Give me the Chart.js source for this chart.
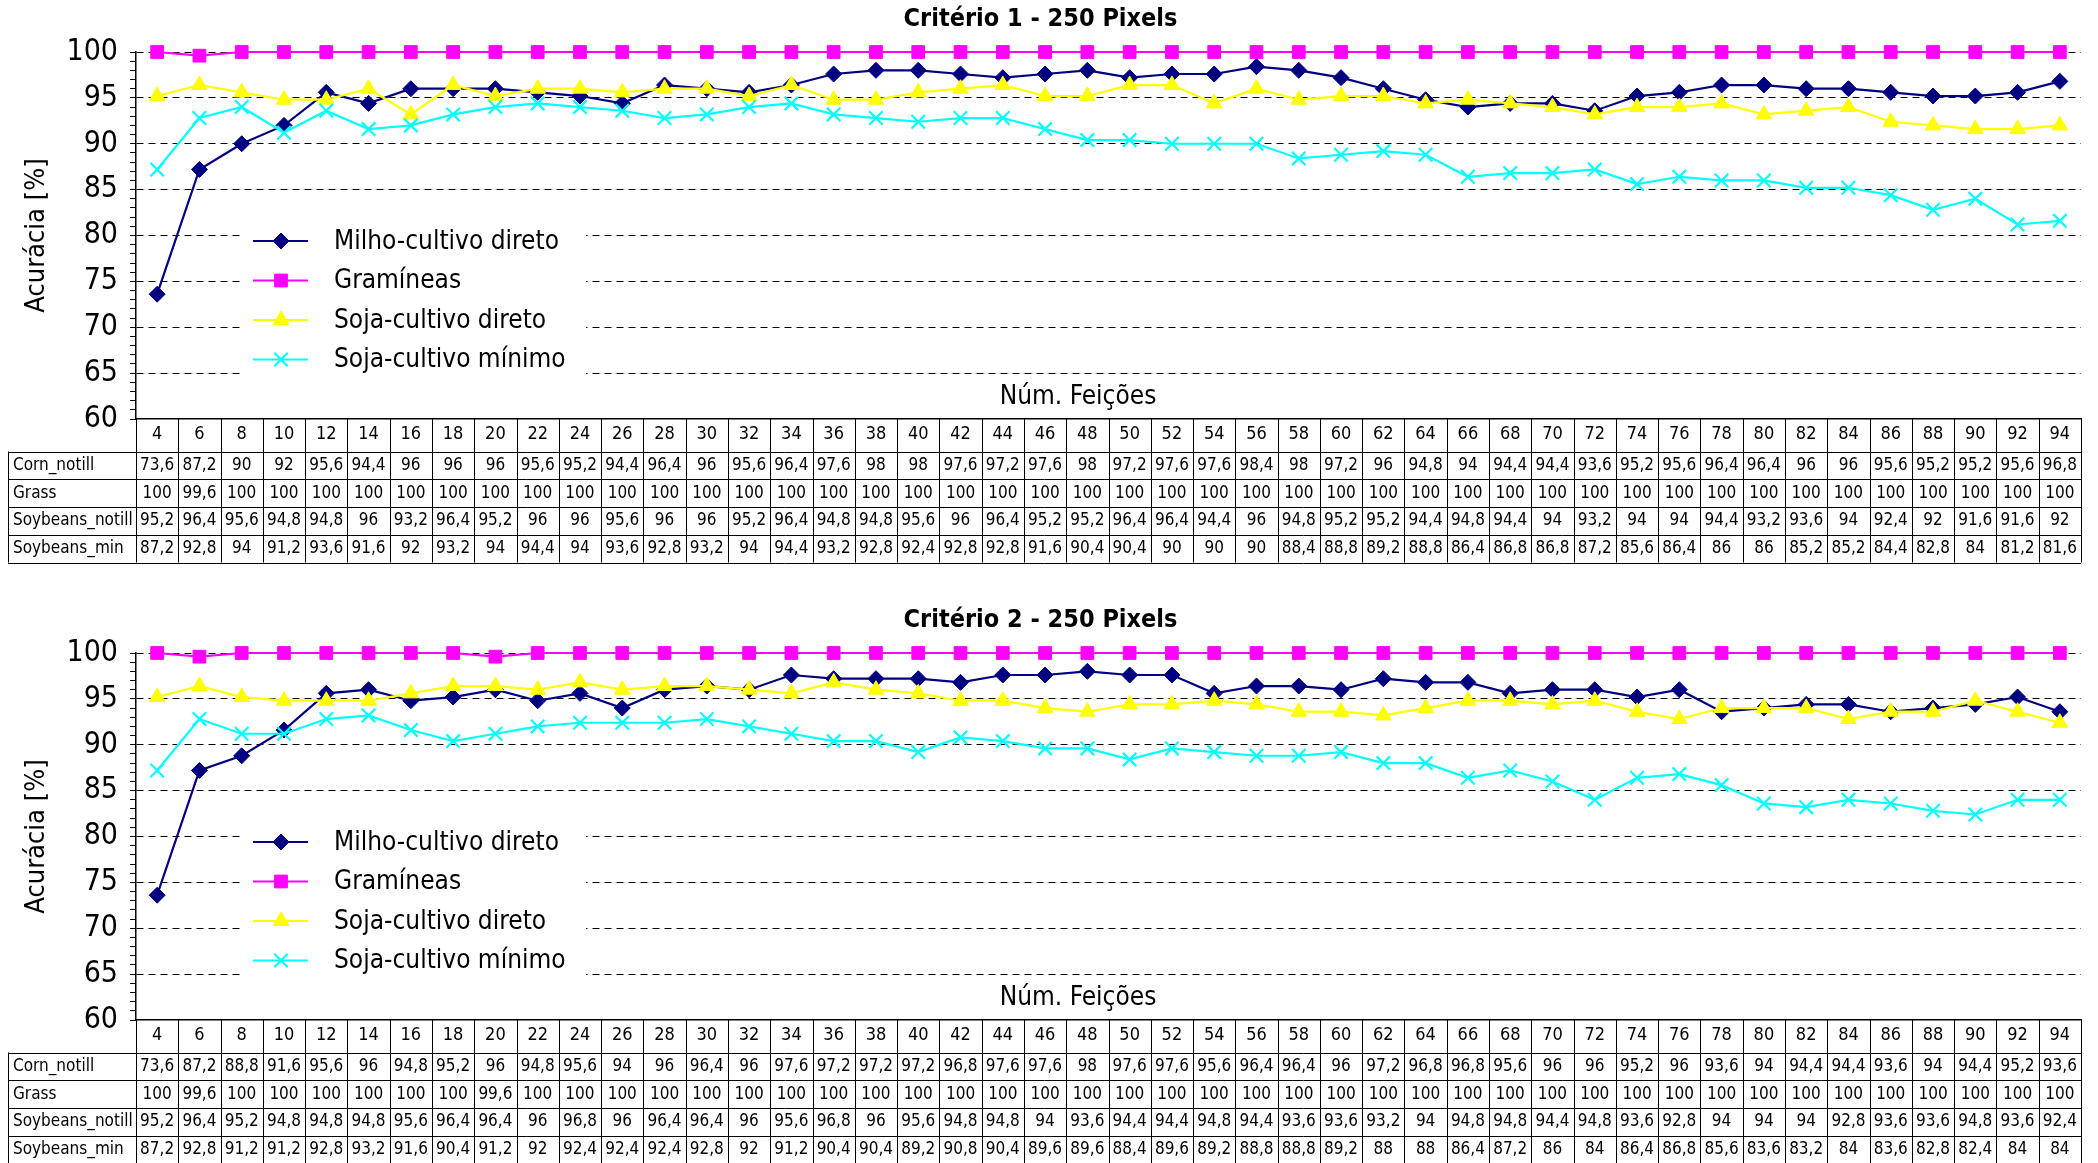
<!DOCTYPE html>
<html>
<head>
<meta charset="utf-8">
<title>Critério 1 e 2 - 250 Pixels</title>
<script src="https://cdn.jsdelivr.net/npm/chart.js@4.4.1/dist/chart.umd.min.js"></script>
<style>
  html, body { margin: 0; padding: 0; background: #fff; width: 2098px; height: 1163px; overflow: hidden; }
  canvas { position: absolute; left: 0; }
  #chartOne { top: 0; }
  #chartTwo { top: 601px; }
</style>
</head>
<body>
<canvas id="chartOne" width="2098" height="566"></canvas>
<canvas id="chartTwo" width="2098" height="566"></canvas>
<script>
// number of features (x categories)
const features = [4, 6, 8, 10, 12, 14, 16, 18, 20, 22, 24, 26, 28, 30, 32, 34, 36, 38, 40, 42, 44, 46, 48,
                  50, 52, 54, 56, 58, 60, 62, 64, 66, 68, 70, 72, 74, 76, 78, 80, 82, 84, 86, 88, 90, 92, 94];

// Critério 1
const cornOne = [73.6, 87.2, 90, 92, 95.6, 94.4, 96, 96, 96, 95.6, 95.2, 94.4, 96.4, 96,
                 95.6, 96.4, 97.6, 98, 98, 97.6, 97.2, 97.6, 98, 97.2, 97.6, 97.6, 98.4, 98, 97.2, 96,
                 94.8, 94, 94.4, 94.4, 93.6, 95.2, 95.6, 96.4, 96.4, 96, 96, 95.6, 95.2, 95.2, 95.6, 96.8];
const grassOne = [100, 99.6, 100, 100, 100, 100, 100, 100, 100, 100, 100, 100, 100, 100,
                  100, 100, 100, 100, 100, 100, 100, 100, 100, 100, 100, 100, 100, 100, 100, 100,
                  100, 100, 100, 100, 100, 100, 100, 100, 100, 100, 100, 100, 100, 100, 100, 100];
const soyNotillOne = [95.2, 96.4, 95.6, 94.8, 94.8, 96, 93.2, 96.4, 95.2, 96, 96, 95.6, 96, 96,
                      95.2, 96.4, 94.8, 94.8, 95.6, 96, 96.4, 95.2, 95.2, 96.4, 96.4, 94.4, 96, 94.8, 95.2, 95.2,
                      94.4, 94.8, 94.4, 94, 93.2, 94, 94, 94.4, 93.2, 93.6, 94, 92.4, 92, 91.6, 91.6, 92];
const soyMinOne = [87.2, 92.8, 94, 91.2, 93.6, 91.6, 92, 93.2, 94, 94.4, 94, 93.6, 92.8, 93.2,
                   94, 94.4, 93.2, 92.8, 92.4, 92.8, 92.8, 91.6, 90.4, 90.4, 90, 90, 90, 88.4, 88.8, 89.2,
                   88.8, 86.4, 86.8, 86.8, 87.2, 85.6, 86.4, 86, 86, 85.2, 85.2, 84.4, 82.8, 84, 81.2, 81.6];

// Critério 2
const cornTwo = [73.6, 87.2, 88.8, 91.6, 95.6, 96, 94.8, 95.2, 96, 94.8, 95.6, 94, 96, 96.4,
                 96, 97.6, 97.2, 97.2, 97.2, 96.8, 97.6, 97.6, 98, 97.6, 97.6, 95.6, 96.4, 96.4, 96, 97.2,
                 96.8, 96.8, 95.6, 96, 96, 95.2, 96, 93.6, 94, 94.4, 94.4, 93.6, 94, 94.4, 95.2, 93.6];
const grassTwo = [100, 99.6, 100, 100, 100, 100, 100, 100, 99.6, 100, 100, 100, 100, 100,
                  100, 100, 100, 100, 100, 100, 100, 100, 100, 100, 100, 100, 100, 100, 100, 100,
                  100, 100, 100, 100, 100, 100, 100, 100, 100, 100, 100, 100, 100, 100, 100, 100];
const soyNotillTwo = [95.2, 96.4, 95.2, 94.8, 94.8, 94.8, 95.6, 96.4, 96.4, 96, 96.8, 96, 96.4, 96.4,
                      96, 95.6, 96.8, 96, 95.6, 94.8, 94.8, 94, 93.6, 94.4, 94.4, 94.8, 94.4, 93.6, 93.6, 93.2,
                      94, 94.8, 94.8, 94.4, 94.8, 93.6, 92.8, 94, 94, 94, 92.8, 93.6, 93.6, 94.8, 93.6, 92.4];
const soyMinTwo = [87.2, 92.8, 91.2, 91.2, 92.8, 93.2, 91.6, 90.4, 91.2, 92, 92.4, 92.4, 92.4, 92.8,
                   92, 91.2, 90.4, 90.4, 89.2, 90.8, 90.4, 89.6, 89.6, 88.4, 89.6, 89.2, 88.8, 88.8, 89.2, 88,
                   88, 86.4, 87.2, 86, 84, 86.4, 86.8, 85.6, 83.6, 83.2, 84, 83.6, 82.8, 82.4, 84, 84];

const SANS = "'DejaVu Sans Condensed', 'DejaVu Sans', Verdana, sans-serif";
const NARROW = "'Liberation Sans Narrow', 'Arial Narrow', 'DejaVu Sans Condensed', sans-serif";

function formatValue(v) {
    return String(v).replace('.', ',');
}

// data table under the plot, columns follow the x scale
const tablePlugin = {
    id: 'dataTable',
    afterDraw(chart, args, opts) {
        const c = chart.ctx;
        const x = chart.scales.x;
        const area = chart.chartArea;
        const half = (x.getPixelForValue(1) - x.getPixelForValue(0)) / 2;
        const top = area.bottom;
        const headBottom = top + 32.5;
        const rowH = 27.75;
        const bottom = headBottom + rowH * opts.rows.length;
        const left = 8;
        const right = x.getPixelForValue(features.length - 1) + half;

        c.save();
        c.strokeStyle = '#000';
        c.lineWidth = 1;
        c.beginPath();
        for (let i = 0; i <= features.length; i++) {
            const px = Math.round(x.getPixelForValue(i) - half) + 0.5;
            c.moveTo(px, top);
            c.lineTo(px, bottom);
        }
        c.moveTo(left + 0.5, headBottom);
        c.lineTo(left + 0.5, bottom);
        for (let r = 0; r <= opts.rows.length; r++) {
            const py = Math.round(headBottom + r * rowH) + 0.5;
            c.moveTo(left, py);
            c.lineTo(right, py);
        }
        c.stroke();

        c.fillStyle = '#000';
        c.font = '17px ' + NARROW;
        c.textBaseline = 'middle';
        opts.rows.forEach(function(row, r) {
            const cy = headBottom + rowH * (r + 0.5);
            c.textAlign = 'left';
            c.fillText(row.name, 13, cy);
            c.textAlign = 'center';
            row.values.forEach(function(v, i) {
                c.fillText(formatValue(v), x.getPixelForValue(i), cy);
            });
        });
        c.restore();
    }
};

// legend box sitting inside the plot, plus the x axis caption
const insideLegendPlugin = {
    id: 'insideLegend',
    afterDraw(chart) {
        const c = chart.ctx;
        const area = chart.chartArea;
        const x0 = area.left;
        c.save();
        c.fillStyle = '#fff';
        c.fillRect(x0 + 105, area.top + 164, 345, 172);

        chart.data.datasets.forEach(function(ds, i) {
            const y = area.top + 189 + i * 39.5;
            c.strokeStyle = ds.borderColor;
            c.fillStyle = ds.backgroundColor;
            c.lineWidth = ds.borderWidth;
            c.beginPath();
            c.moveTo(x0 + 117, y);
            c.lineTo(x0 + 172, y);
            c.stroke();
            c.lineWidth = ds.pointBorderWidth;
            Chart.helpers.drawPoint(c, {
                pointStyle: ds.pointStyle,
                radius: ds.pointRadius,
                borderWidth: ds.pointBorderWidth,
                rotation: 0
            }, x0 + 145, y);
            c.fillStyle = '#000';
            c.font = '26px ' + SANS;
            c.textAlign = 'left';
            c.textBaseline = 'middle';
            c.fillText(ds.label, x0 + 198, y + 1);
        });

        c.fillStyle = '#000';
        c.font = '26px ' + SANS;
        c.textAlign = 'center';
        c.textBaseline = 'middle';
        c.fillText('Núm. Feições', x0 + 942, area.bottom - 22);
        c.restore();
    }
};

function series(label, values, color, style, radius, order) {
    return {
        label: label,
        data: values,
        borderColor: color,
        backgroundColor: color,
        borderWidth: 2.2,
        pointStyle: style,
        pointRadius: radius,
        pointBorderWidth: style === 'crossRot' ? 2.2 : 1,
        pointBackgroundColor: color,
        pointBorderColor: color,
        tension: 0,
        clip: false,
        order: order
    };
}

function createPanel(canvasId, titleText, corn, grass, soyNotill, soyMin) {
    const ctx = document.getElementById(canvasId);
    return new Chart(ctx, {
        type: 'line',
        data: {
            labels: features,
            datasets: [
                series('Milho-cultivo direto', corn, '#000080', 'rectRot', 8, 3),
                series('Gramíneas', grass, '#ff00ff', 'rect', 9, 2),
                series('Soja-cultivo direto', soyNotill, '#ffff00', 'triangle', 9, 1),
                series('Soja-cultivo mínimo', soyMin, '#00ffff', 'crossRot', 9.5, 0)
            ]
        },
        options: {
            responsive: false,
            animation: false,
            events: [],
            layout: {
                padding: { top: 0, left: 0, right: 17, bottom: 0 }
            },
            scales: {
                x: {
                    type: 'category',
                    offset: true,
                    grid: { display: false, drawTicks: false },
                    border: { display: true, color: '#000', width: 1.5 },
                    ticks: {
                        color: '#000',
                        font: { family: NARROW, size: 18 },
                        padding: 5,
                        maxRotation: 0,
                        autoSkip: false
                    },
                    afterFit: function(scale) { scale.height = 147; }
                },
                y: {
                    min: 60,
                    max: 100,
                    ticks: {
                        stepSize: 1,
                        autoSkip: false,
                        color: '#000',
                        font: { family: NARROW, size: 30 },
                        padding: 12,
                        callback: function(v) { return v % 5 === 0 ? v : ''; }
                    },
                    grid: {
                        color: function(c) {
                            return (c.tick && c.tick.value % 5 === 0 && c.tick.value > 60) ? '#000' : 'rgba(0,0,0,0)';
                        },
                        lineWidth: 1,
                        tickLength: 6,
                        tickColor: '#000',
                        tickWidth: 1,
                        tickBorderDash: []
                    },
                    border: { color: '#000', width: 1.5, dash: [7, 5] },
                    title: {
                        display: true,
                        text: 'Acurácia [%]',
                        color: '#000',
                        font: { family: SANS, size: 27 },
                        padding: { top: 21, bottom: 0 }
                    },
                    afterFit: function(scale) { scale.width = 136; }
                }
            },
            plugins: {
                legend: { display: false },
                tooltip: { enabled: false },
                title: {
                    display: true,
                    text: titleText,
                    color: '#000',
                    font: { family: SANS, size: 25, weight: 'bold' },
                    padding: { top: 4, bottom: 18 }
                },
                dataTable: {
                    rows: [
                        { name: 'Corn_notill', values: corn },
                        { name: 'Grass', values: grass },
                        { name: 'Soybeans_notill', values: soyNotill },
                        { name: 'Soybeans_min', values: soyMin }
                    ]
                }
            }
        },
        plugins: [tablePlugin, insideLegendPlugin]
    });
}

createPanel('chartOne', 'Critério 1 - 250 Pixels', cornOne, grassOne, soyNotillOne, soyMinOne);
createPanel('chartTwo', 'Critério 2 - 250 Pixels', cornTwo, grassTwo, soyNotillTwo, soyMinTwo);
</script>
</body>
</html>
